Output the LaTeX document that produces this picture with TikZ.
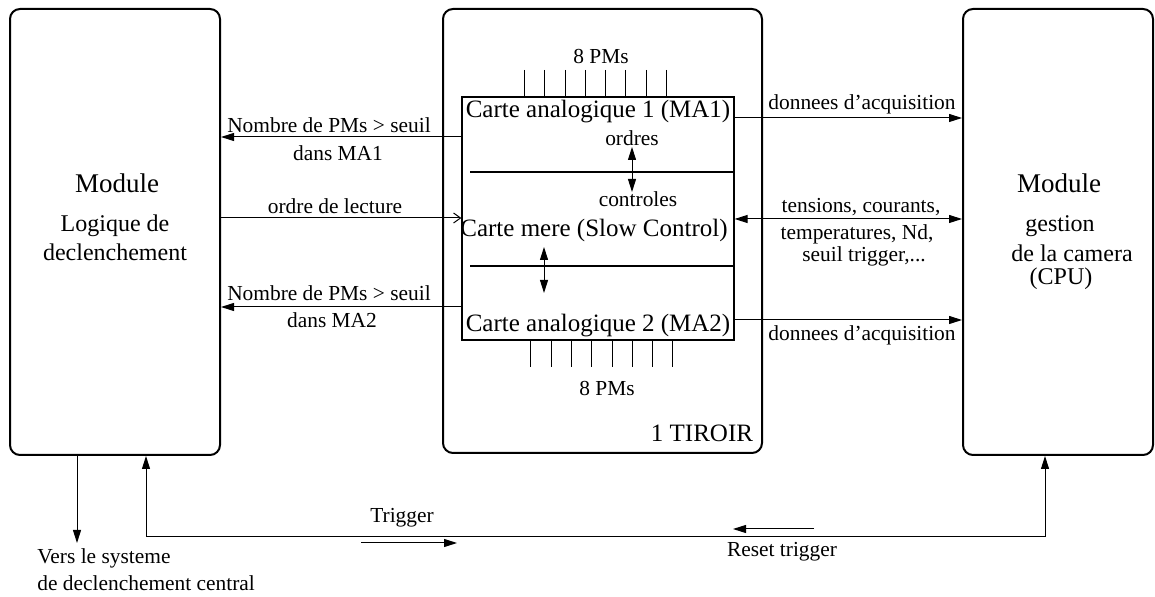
\documentclass[tikz,border=0pt]{standalone}
\usepackage{fontspec}
\setmainfont{Liberation Serif}
\usetikzlibrary{arrows.meta}
\tikzset{
  modulebox/.style={draw, line width=1pt, rounded corners=5pt, inner sep=0pt},
  cardbox/.style={draw, line width=0.6pt, inner sep=0pt},
  modtitle/.style={inner sep=0pt, font=\fontsize{13.5}{15}\selectfont},
  modtext/.style={inner sep=0pt, font=\fontsize{12}{13.5}\selectfont},
  cardtext/.style={inner sep=0pt, font=\fontsize{12.5}{14}\selectfont},
  lbl/.style={inner sep=0pt, font=\fontsize{10.7}{12}\selectfont},
  sig/.style={line width=0.5pt, -{Triangle[length=6.5pt,width=4pt]}},
  sigboth/.style={line width=0.5pt, {Triangle[length=6.5pt,width=4pt]}-{Triangle[length=6.5pt,width=4pt]}},
  sigopen/.style={line width=0.5pt, -{Straight Barb[length=3.5pt,width=5pt]}},
  pm/.style={line width=0.4pt}
}
\begin{document}
\begin{tikzpicture}[x=0.5pt,y=-0.5pt]
  \useasboundingbox (0,0) rectangle (1155,597);
  % the three modules
  \node[modulebox, minimum width=105pt, minimum height=223pt] (logic) at (115,232) {};
  \node[modulebox, minimum width=159.5pt, minimum height=222pt] (tiroir) at (602.5,231) {};
  \node[modulebox, minimum width=95pt, minimum height=223pt] (cpu) at (1058,232) {};
  \node[cardbox, minimum width=136pt, minimum height=121.5pt] (inner) at (598,218.5) {};

  % texts of the modules
  \node[modtitle] (logicname) at (117,183) {Module};
  \node[modtext] (logic1) at (115,226) {Logique de};
  \node[modtext] (logic2) at (115,252) {declenchement};
  \node[modtitle] (cpuname) at (1059,183) {Module};
  \node[modtext] (cpu1) at (1060,226) {gestion};
  \node[modtext] (cpu2) at (1072,253) {de la camera};
  \node[modtext] (cpu3) at (1061,279) {(CPU)};
  \node[cardtext] (tiroirname) at (702,433) {1 TIROIR};

  % the drawer
  \node[cardtext] (ma1) at (598,112) {Carte analogique 1 (MA1)};
  \node[lbl] (ordres) at (632,138) {ordres};
  \node[lbl] (controles) at (638,199) {controles};
  \node[cardtext] (mere) at (594,230) {Carte mere (Slow Control)};
  \node[cardtext] (ma2) at (598,326) {Carte analogique 2 (MA2)};
  \node[lbl] (pmtop) at (601,56) {8 PMs};
  \node[lbl] (pmbot) at (607,388) {8 PMs};
  \coordinate (sep1) at (470,172);
  \coordinate (sep2) at (470,266);
  \draw[line width=0.6pt] (sep1) -- (inner.east |- sep1);
  \draw[line width=0.6pt] (sep2) -- (inner.east |- sep2);
  \draw[sigboth] (632,147) -- (632,192);
  \draw[sigboth] (544,247) -- (544,293);
  \foreach \i in {0,...,7}
    \draw[pm] (524.3+20.3*\i,70) -- (524.3+20.3*\i,97);
  \foreach \i in {0,...,7}
    \draw[pm] (530.7+20.3*\i,340) -- (530.7+20.3*\i,367);

  % links to the trigger logic
  \coordinate (ya) at (0,137);
  \coordinate (yb) at (0,218);
  \coordinate (yc) at (0,307);
  \draw[sig] (inner.west |- ya) -- (logic.east |- ya);
  \draw[sigopen] (logic.east |- yb) -- (inner.west |- yb);
  \draw[sig] (inner.west |- yc) -- (logic.east |- yc);
  \node[lbl] (nb1) at (329,125) {Nombre de PMs > seuil};
  \node[lbl] (dans1) at (338,153) {dans MA1};
  \node[lbl] (lecture) at (335,206) {ordre de lecture};
  \node[lbl] (nb2) at (329,293) {Nombre de PMs > seuil};
  \node[lbl] (dans2) at (332,320) {dans MA2};

  % links to the CPU
  \coordinate (yd) at (0,118);
  \coordinate (ye) at (0,219);
  \coordinate (yf) at (0,320);
  \draw[sig] (inner.east |- yd) -- (cpu.west |- yd);
  \draw[sigboth] (inner.east |- ye) -- (cpu.west |- ye);
  \draw[sig] (inner.east |- yf) -- (cpu.west |- yf);
  \node[lbl] (acq1) at (862,104) {donnees d'acquisition};
  \node[lbl] (tens) at (861,207) {tensions, courants,};
  \node[lbl] (temp) at (857,234) {temperatures, Nd,};
  \node[lbl] (seuil) at (864,256) {seuil trigger,...};
  \node[lbl] (acq2) at (862,335) {donnees d'acquisition};

  % trigger loop
  \coordinate (central) at (77,543);
  \coordinate (trigL) at (146,537);
  \coordinate (trigR) at (1045,537);
  \draw[sig] (logic.south -| central) -- (central);
  \draw[sigboth] (logic.south -| trigL) -- (trigL) -- (trigR) -- (cpu.south -| trigR);
  \node[lbl, anchor=west] (vers1) at (37,558) {Vers le systeme};
  \node[lbl, anchor=west] (vers2) at (37,583) {de declenchement central};
  \node[lbl] (trigger) at (402,518) {Trigger};
  \coordinate (trigA) at (361,543);
  \coordinate (trigB) at (457,543);
  \draw[sig] (trigA) -- (trigB);
  \node[lbl] (reset) at (782,552) {Reset trigger};
  \coordinate (resA) at (814,529);
  \coordinate (resB) at (733,529);
  \draw[sig] (resA) -- (resB);
\end{tikzpicture}
\end{document}
